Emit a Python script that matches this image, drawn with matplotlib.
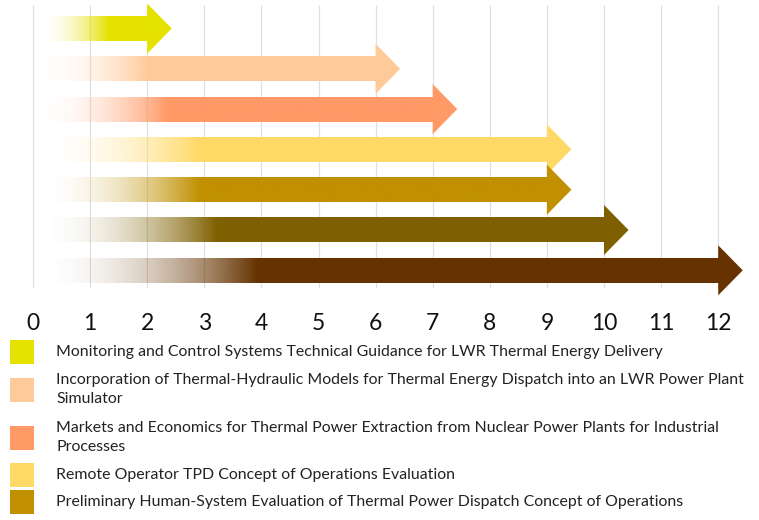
import matplotlib.pyplot as plt
import matplotlib.colors as mcolors
from matplotlib.patches import Polygon, Rectangle
import numpy as np

# task ends (start of arrow head), in months
ends = [2, 6, 7, 9, 9, 10, 12]
# where the left fade reaches full colour
fade_end = [1.3, 2.0, 2.35, 2.9, 2.9, 3.2, 3.9]
colors = ['#E6E200', '#FFCA99', '#FF9966', '#FFD966', '#C09000', '#7F6000', '#663300']
ticks = list(range(0, 13))
labels = [
    'Monitoring and Control Systems Technical Guidance for LWR Thermal Energy Delivery',
    'Incorporation of Thermal-Hydraulic Models for Thermal Energy Dispatch into an LWR Power Plant\nSimulator',
    'Markets and Economics for Thermal Power Extraction from Nuclear Power Plants for Industrial\nProcesses',
    'Remote Operator TPD Concept of Operations Evaluation',
    'Preliminary Human-System Evaluation of Thermal Power Dispatch Concept of Operations',
]

plt.rcParams['font.family'] = ['Lato', 'DejaVu Sans']

W, H = 759, 520
fig = plt.figure(figsize=(W / 100, H / 100), dpi=100)

# chart area: top 300 px of the figure
ax = fig.add_axes([0, 1 - 300 / H, 1, 300 / H])
px_per_unit = 57.1
x0_px = 33
row_px = 40.3
row0_px = 28.5
xlim = (-x0_px / px_per_unit, (W - x0_px) / px_per_unit)
ylim = ((300 - row0_px) / row_px, -row0_px / row_px)

shaft_h = 25 / row_px
head_h = 50 / row_px
head_len = 0.43
start = 0.08

ax.vlines(ticks, (5 - row0_px) / row_px, (288 - row0_px) / row_px,
          color='#E0E0E0', lw=0.9, zorder=0)

for i, (end, fe, c) in enumerate(zip(ends, fade_end, colors)):
    rgb = mcolors.to_rgb(c)
    xs = np.linspace(start, end, 400)
    a = np.clip((xs - start) / (fe - start), 0, 1) ** 2
    img = np.zeros((2, len(xs), 4))
    img[..., 0] = rgb[0]
    img[..., 1] = rgb[1]
    img[..., 2] = rgb[2]
    img[..., 3] = a
    ax.imshow(img, extent=[start, end + 0.01, i + shaft_h / 2, i - shaft_h / 2],
              aspect='auto', interpolation='bilinear', zorder=2)
    ax.add_patch(Polygon([(end, i - head_h / 2), (end + head_len, i),
                          (end, i + head_h / 2)], closed=True,
                         facecolor=c, edgecolor='none', zorder=3))

ax.set_xlim(*xlim)
ax.set_ylim(*ylim)
ax.set_xticks(ticks)
ax.set_xticklabels([str(t) for t in ticks], fontsize=16.5, color='#111111')
ax.tick_params(axis='x', length=0, pad=9)
ax.set_yticks([])
for s in ax.spines.values():
    s.set_visible(False)

# legend in pixel coordinates
lg = fig.add_axes([0, 0, 1, 1])
lg.set_xlim(0, W)
lg.set_ylim(H, 0)
lg.axis('off')
y = 352
prev_n = None
for lab, c in zip(labels, colors):
    n = lab.count('\n') + 1
    if prev_n is not None:
        y += 6 + 10.5 * (prev_n + n)
    lg.add_patch(Rectangle((10, y - 12), 24, 24, facecolor=c, edgecolor='none'))
    lg.text(56, y, lab, fontsize=11.4, va='center', ha='left',
            color='#222222', linespacing=1.4)
    prev_n = n

fig.savefig('out.png', dpi=100)
